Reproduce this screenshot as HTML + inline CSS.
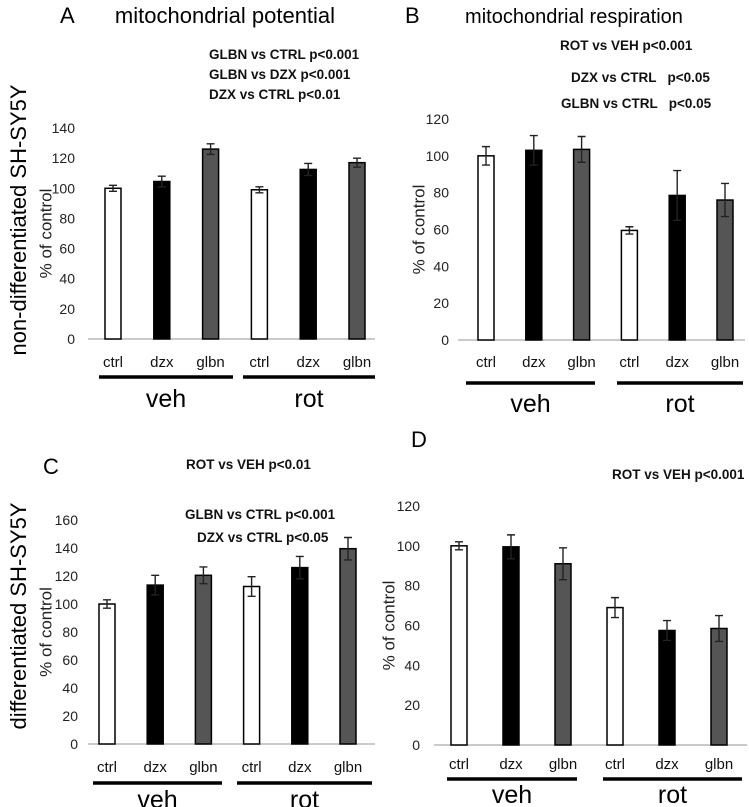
<!DOCTYPE html>
<html><head><meta charset="utf-8">
<style>
html,body{margin:0;padding:0;background:#fff;}
svg{display:block;font-family:"Liberation Sans",sans-serif;}
</style></head>
<body>
<svg id="fig" width="749" height="807" viewBox="0 0 749 807" xmlns="http://www.w3.org/2000/svg">
<text x="20" y="220" transform="rotate(-90 20 220)" text-anchor="middle" dominant-baseline="middle" font-size="22">non-differentiated SH-SY5Y</text>
<text x="20" y="616" transform="rotate(-90 20 616)" text-anchor="middle" dominant-baseline="middle" font-size="22">differentiated SH-SY5Y</text>
<text x="60" y="23" font-size="22">A</text>
<text x="225" y="23" font-size="22" text-anchor="middle">mitochondrial potential</text>
<text x="405" y="23" font-size="22">B</text>
<text x="574" y="23" font-size="20" text-anchor="middle">mitochondrial respiration</text>
<text x="43" y="474" font-size="22">C</text>
<text x="411" y="447" font-size="22">D</text>
<g font-size="13.5" font-weight="bold" fill="#111">
<text x="209" y="59">GLBN vs CTRL p&lt;0.001</text>
<text x="209" y="79">GLBN vs DZX p&lt;0.001</text>
<text x="209" y="99">DZX vs CTRL p&lt;0.01</text>
<text x="560" y="50">ROT vs VEH p&lt;0.001</text>
<text x="571" y="82" xml:space="preserve">DZX vs CTRL   p&lt;0.05</text>
<text x="561" y="108" xml:space="preserve">GLBN vs CTRL   p&lt;0.05</text>
<text x="186" y="469">ROT vs VEH p&lt;0.01</text>
<text x="185" y="519">GLBN vs CTRL p&lt;0.001</text>
<text x="197" y="542">DZX vs CTRL p&lt;0.05</text>
<text x="612" y="479">ROT vs VEH p&lt;0.001</text>
</g>
</svg>
<script>
const categories = ["ctrl","dzx","glbn","ctrl","dzx","glbn"];
const groups = ["veh","rot"];
const fills = ["#ffffff","#000000","#555555","#ffffff","#000000","#555555"];
const valuesA = [100,104.5,126,99,112.5,117];
const errorsA = [2,3.5,3.5,2,4,3];
const ticksA = [0,20,40,60,80,100,120,140];
const valuesB = [100,103,103.5,59.5,78.5,76];
const errorsB = [5,8,7,2,13.5,9];
const ticksB = [0,20,40,60,80,100,120];
const valuesC = [100,113.5,120.5,112.5,126,139.5];
const errorsC = [3,7,6,7,8,8];
const ticksC = [0,20,40,60,80,100,120,140,160];
const valuesD = [100,99.5,91,69,57.5,58.5];
const errorsD = [2,6,8,5,5,6.5];
const ticksD = [0,20,40,60,80,100,120];

const NS="http://www.w3.org/2000/svg";
const svg=document.getElementById('fig');
function mk(tag,attrs,parent){const e=document.createElementNS(NS,tag);for(const k in attrs)e.setAttribute(k,attrs[k]);(parent||svg).appendChild(e);return e;}

function panel(p,vals,errs,ticks){
  const g=mk('g',{});
  
  
  const tmax=ticks[ticks.length-1];
  const y=v=>p.y0-(v/tmax)*(p.y0-p.yTop);
  const x=i=>p.x0+i*p.step;
  ticks.forEach(t=>{
    const tx=mk('text',{x:p.tickX,y:y(t)+5,'text-anchor':'end','font-size':14,fill:'#222'},g);
    tx.textContent=t;
    
    
  });
  const ax=mk('line',{x1:p.axL,x2:p.axR,y1:p.y0,y2:p.y0,stroke:'#aaa','stroke-width':1.2},g);
  
  
  const yt=mk('text',{x:p.ytX,y:(p.y0+p.yTop)/2,'text-anchor':'middle','font-size':17,fill:'#222',transform:`rotate(-90 ${p.ytX} ${(p.y0+p.yTop)/2})`,'dominant-baseline':'middle'},g);
  yt.textContent='% of control';
  
  
  vals.forEach((v,i)=>{
    const cx=x(i),bw=16;
    const r=mk('rect',{x:cx-bw/2,y:y(v),width:bw,height:p.y0-y(v),fill:fills[i],stroke:'#000','stroke-width':1.5},g);
    
    
    const e=errs[i];
    const eb=mk('path',{d:`M${cx} ${y(v+e)}V${y(v-e)}M${cx-4} ${y(v+e)}H${cx+4}M${cx-4} ${y(v-e)}H${cx+4}`,stroke:'#222','stroke-width':1.4,fill:'none'},g);
    
    
    const ct=mk('text',{x:cx,y:p.catY,'text-anchor':'middle','font-size':15,fill:'#111'},g);
    ct.textContent=categories[i];
    
    
  });
  groups.forEach((gr,k)=>{
    const ln=mk('line',{x1:p.lines[k][0],x2:p.lines[k][1],y1:p.lineY,y2:p.lineY,stroke:'#000','stroke-width':3.5},g);
    
    
    const gt=mk('text',{x:(p.lines[k][0]+p.lines[k][1])/2,y:p.grY,'text-anchor':'middle','font-size':25,fill:'#000'},g);
    gt.textContent=gr;
    
    
  });
}
panel({id:'a',x0:113,step:48.8,y0:339,yTop:128,tickX:75,axL:88,axR:375,ytX:47,catY:367,lineY:377,lines:[[99,233],[243,375]],grY:407},valuesA,errorsA,ticksA);
panel({id:'b',x0:486,step:47.8,y0:340,yTop:119,tickX:449,axL:458,axR:745,ytX:420,catY:367,lineY:383,lines:[[466,595],[617,743]],grY:412},valuesB,errorsB,ticksB);
panel({id:'c',x0:107,step:48.2,y0:744,yTop:520,tickX:78,axL:88,axR:375,ytX:47,catY:772,lineY:783,lines:[[93,222],[237,372]],grY:808},valuesC,errorsC,ticksC);
panel({id:'d',x0:459,step:52,y0:745,yTop:506,tickX:420,axL:434,axR:747,ytX:390,catY:769,lineY:779,lines:[[447,577],[603,742]],grY:803},valuesD,errorsD,ticksD);
</script>
</body></html>
